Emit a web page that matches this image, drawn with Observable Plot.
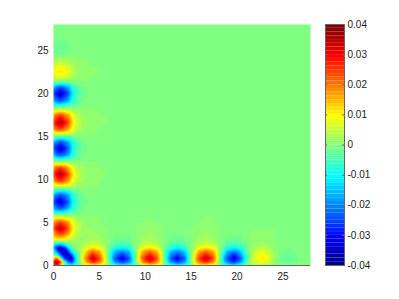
<!DOCTYPE html>
<html><head><meta charset="utf-8">
<script src="https://cdn.jsdelivr.net/npm/d3@7"></script>
<script src="https://cdn.jsdelivr.net/npm/@observablehq/plot@0.6"></script>
<style>html,body{margin:0;background:#fff}#c{position:relative;width:399px;height:299px}#c svg{position:absolute;left:0;top:0;background:transparent}</style>
</head><body><div id="c"></div>
<script>
const xs=[0,.4,.8,1.2,1.6,2,2.5,3,3.55,4.3,5.05,5.9,6.7,7.5,8.25,9,9.75,10.5,11.25,12,12.75,13.5,14.3,15,15.8,16.6,17.4,18.1,18.9,19.7,20.45,21.2,22,22.7,23.4,24.1,24.9,25.6,26.3,27,28];
const ys=[0,.4,.8,1.2,1.6,2,2.5,3,3.55,4.3,5.05,5.85,6.65,7.4,8.2,9,9.8,10.6,11.35,12.1,12.85,13.6,14.35,15.1,15.85,16.6,17.45,18.3,19.15,20,20.7,21.3,21.9,22.5,23.2,23.9,24.6,25.3,26,27,28];
// values in thousandths, one row per entry of ys; omitted trailing cells are zero
const rows=[
[25,28,14,-2,-8,-10,-4,1.5,6,10.2,7.2,0,-7.2,-9.9,-7.2,0,7.2,10.2,7.2,0,-6.9,-9.6,-6.9,0,7.2,10.2,7.2,0,-7.2,-10.2,-6.6,-.6,2.4,3.3,2.4,.3,-.6,-.9,-.6],
[28,38,22,-6,-20,-26,-10,4,16,27,19,0,-19,-26,-19,0,19,27,19,0,-18,-26,-18,0,19,27,19,0,-19,-27,-18,-2,6,9,6,1,-2,-2,-2],
[14,22,-3,-24,-34,-33,-10,5,20,34,24,0,-24,-33,-24,0,24,34,24,0,-23,-32,-23,0,24,34,24,0,-24,-34,-22,-2,8,11,8,1,-2,-3,-2],
[-2,-6,-24,-34,-35,-24,-7,3,16,28,20,0,-20,-27,-20,0,20,28,20,0,-19,-26,-19,0,20,28,20,0,-20,-28,-18,-2,7,9,7,1,-2,-2,-2],
[-10,-20,-34,-36,-26,-12,-2,2,13,22,16,0,-16,-21,-16,0,16,22,16,0,-15,-21,-15,0,16,22,16,0,-16,-22,-14,-1,5,7.5,5,.6,-1.2,-1.8,-1.2],
[-14,-30,-36,-30,-16,-5,0,2,7,12,9,0,-9,-12,-9,0,9,12,9,0,-8,-12,-8,0,9,12,9,0,-9,-12,-8,-.7,3,4,3,.4,-.7,-1,-.7],
[-8,-12,-13,-9,-3,0,1,1.5,3.2,5.4,3.8,0,-3.8,-5.3,-3.8,0,3.8,5.4,3.8,0,-3.7,-5.1,-3.7,0,3.8,5.4,3.8,0,-3.8,-5.4,-3.5,-.3,1.3,2,1.3,.1,-.3,-.5,-.3],
[7,9,10,9,6,3,1.5,1,1.6,2.6,1.8,0,-1.7,-2.4,-1.7,0,1.8,2.6,1.8,0,-1.7,-2.4,-1.7,0,1.8,2.6,1.8,0,-1.7,-2.4,-1.5,-.1,.6,1.1,.6],
[15,20,22,19,15,8.4,3.7,1.7,1,1.7,1.2,0,-1,-1.4,-1,0,1.2,1.7,1.2,0,-1,-1.4,-1,0,1.2,1.7,1.2,0,-1,-1.4,-1,0,.3,.5,.3],
[23,31,34,29,23,13,5.8,2.6,1.5,1.1,.5,0,-.6,-.9,-.6,0,.5,1.1,.5,0,-.6,-.9,-.6,0,.5,1.1,.5,0,-.6,-.9,-.6],
[16,22,24,21,17,9.5,4.2,2,1,.6,0,0,0,-.2,0,0,0,.3,0,0,0,-.2,0,0,0,.3],
[],
[-16,-22,-24,-21,-17,-9.5,-4.2,-2,-.9,-.4],
[-23,-31,-34,-29,-23,-13,-5.8,-2.7,-1.6,-.8,-.2],
[-16,-22,-24,-21,-17,-9.5,-4.2,-2,-.9,-.4],
[],
[17,23,25,21,17,9.5,4.2,2,1.1,.5],
[24,32,35,30,24,13.5,6,2.8,1.5,.9,.2],
[17,23,25,21,17,9.5,4.2,2,1.1,.5],
[],
[-16,-22,-24,-21,-17,-9.5,-4.2,-2,-.9,-.4],
[-23,-31,-34,-29,-23,-13,-5.8,-2.7,-1.6,-.8,-.2],
[-16,-22,-24,-21,-17,-9.5,-4.2,-2,-.9,-.4],
[],
[17,23,25,21,17,9.5,4.2,2,1.1,.5],
[24,32,35,30,24,13.5,6,2.8,1.5,.9,.2],
[17,23,25,21,17,9.5,4.2,2,1.1,.5],
[],
[-16,-22,-24,-21,-17,-9.5,-4.2,-2,-.9,-.4],
[-24,-32,-35,-30,-24,-13.5,-6,-2.8,-1.6,-.8,-.2],
[-16,-22,-24,-21,-17,-9.5,-4.2,-2,-.9,-.4],
[-2,-3,-3,-2.6,-2,-1.1,-.5,-.2],
[5,7,7.5,6.5,5.2,3,1.4,.7,.3],
[7.5,10.5,11,9.5,7.8,4.5,2.1,1.1,.5,.1],
[5.5,7.6,8,7,5.6,3.2,1.5,.7,.3],
[1.4,1.8,2,1.7,1.4,.7,.3],
[-1.1,-1.5,-1.6,-1.4,-1,-.5,-.2],
[-2,-2.6,-2.8,-2.4,-1.7,-.9,-.3],
[-1.1,-1.5,-1.6,-1.4,-1,-.5,-.2],
[],
[]
];
const xTicks=[0,5,10,15,20,25];
const barTicks=[-0.04,-0.03,-0.02,-0.01,0,0.01,0.02,0.03,0.04];
const barLabels=["-0.04","-0.03","-0.02","-0.01","0","0.01","0.02","0.03","0.04"];
const levels=64;
const jet=d3.range(levels).map(i=>{
  const v=(i+1)/levels*4, c=t=>Math.round(255*Math.max(0,Math.min(1,t)));
  return `rgb(${c(Math.min(v-1.5,4.5-v))},${c(Math.min(v-.5,3.5-v))},${c(Math.min(v+.5,2.5-v))})`;
});
const pts=[];
ys.forEach((y,j)=>xs.forEach((x,i)=>pts.push({x,y,v:(rows[j][i]||0)/1000})));
// thresholds sit just above the round values, so an exact 0 takes the band of the plain background green
const colorScale={type:"quantize",domain:[-0.03999,0.04001],range:jet};
const font="'Liberation Sans',Arial,sans-serif";
const axisGray="#666";
const main=Plot.plot({
  width:399,height:299,marginLeft:53,marginRight:89,marginTop:24,marginBottom:34,
  style:{fontFamily:font,fontSize:"10px",color:"#222"},
  x:{domain:[0,28]},y:{domain:[0,28]},color:colorScale,
  marks:[
    Plot.raster(pts,{x:"x",y:"y",fill:"v",x1:0,y1:0,x2:28,y2:28,interpolate:"barycentric",pixelSize:1}),
    Plot.axisX({ticks:xTicks,tickSize:0,tickPadding:7,label:null}),
    Plot.axisY({ticks:xTicks,tickSize:0,tickPadding:5,label:null}),
    Plot.ruleY([0],{stroke:axisGray})
  ]
});
const bands=jet.map((c,i)=>({lo:-0.04+i*0.08/levels,hi:-0.04+(i+1)*0.08/levels,c}));
const bar=Plot.plot({
  width:399,height:299,marginLeft:325,marginRight:55,marginTop:24,marginBottom:34,
  style:{fontFamily:font,fontSize:"10px",color:"#222",background:"transparent"},
  x:{domain:[0,1],axis:null},y:{domain:[-0.04,0.04],axis:null},
  marks:[
    Plot.rectY(bands,{x1:0,x2:1,y1:"lo",y2:"hi",fill:"c"}),
    Plot.ruleY(barTicks,{y:d=>d,x1:0.88,x2:1,stroke:axisGray}),
    Plot.ruleY(barTicks,{y:d=>d,x1:0,x2:0.12,stroke:axisGray}),
    Plot.frame({stroke:axisGray}),
    Plot.text(barTicks,{x:1,y:d=>d,text:(d,i)=>barLabels[i],textAnchor:"start",dx:3,fill:"#222"})
  ]
});
document.getElementById("c").append(main,bar);
</script></body></html>
